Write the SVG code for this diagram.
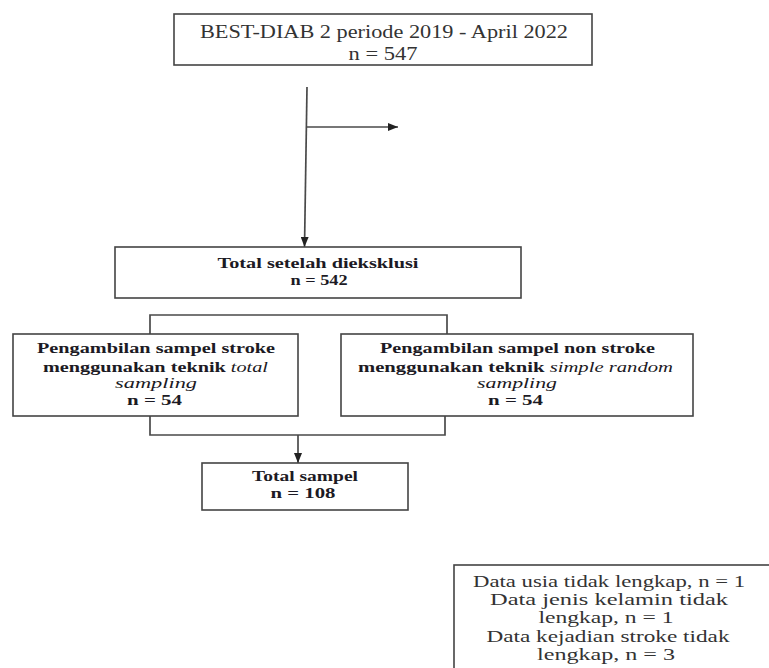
<svg xmlns="http://www.w3.org/2000/svg" width="769" height="668" viewBox="0 0 769 668">
<defs>
<marker id="ah" markerWidth="10" markerHeight="8" refX="10" refY="4" orient="auto" markerUnits="userSpaceOnUse">
<path d="M0,0 L10,4 L0,8 Z" fill="#222"/>
</marker>
<style>
.box{fill:#fff;stroke:#444;stroke-width:1.6}
.ln{fill:none;stroke:#4a4a4a;stroke-width:1.7}
.t1{font-family:"Liberation Serif","Times New Roman",serif;font-size:18px;fill:#333;text-anchor:middle}
.t2{font-family:"Liberation Serif","Times New Roman",serif;font-size:15px;fill:#1c1a24;font-weight:bold;text-anchor:middle}
.t3{font-family:"Liberation Serif","Times New Roman",serif;font-size:16px;fill:#333;text-anchor:middle}
.it{font-style:italic;font-weight:normal}
</style>
</defs>
<rect width="769" height="668" fill="#fff"/>
<g id="connectors">
<line class="ln" x1="307" y1="87" x2="304.5" y2="247" marker-end="url(#ah)"/>
<line class="ln" x1="306" y1="127" x2="398" y2="127" marker-end="url(#ah)"/>
<polyline class="ln" points="150,334 150,315 447,315 447,334"/>
<polyline class="ln" points="150,416 150,435 445,435 445,416"/>
<line class="ln" x1="298" y1="435" x2="298" y2="463" marker-end="url(#ah)"/>
</g>
<g id="n_best">
<rect class="box" x="174" y="14" width="418" height="51"/>
<text class="t1" x="384" y="38" textLength="368" lengthAdjust="spacingAndGlyphs">BEST-DIAB 2 periode 2019 - April 2022</text>
<text class="t1" x="383" y="60" textLength="69" lengthAdjust="spacingAndGlyphs">n = 547</text>
</g>
<g id="n_total">
<rect class="box" x="115" y="247" width="406" height="51"/>
<text class="t2" x="318" y="268" textLength="201" lengthAdjust="spacingAndGlyphs">Total setelah dieksklusi</text>
<text class="t2" x="319" y="285" textLength="57" lengthAdjust="spacingAndGlyphs">n = 542</text>
</g>
<g id="n_stroke">
<rect class="box" x="13" y="334" width="285" height="82"/>
<text class="t2" x="156" y="353" textLength="238" lengthAdjust="spacingAndGlyphs">Pengambilan sampel stroke</text>
<text class="t2" x="155.5" y="372" textLength="225" lengthAdjust="spacingAndGlyphs">menggunakan teknik <tspan class="it">total</tspan></text>
<text class="t2 it" x="156" y="388" textLength="82" lengthAdjust="spacingAndGlyphs">sampling</text>
<text class="t2" x="154.5" y="405" textLength="55" lengthAdjust="spacingAndGlyphs">n = 54</text>
</g>
<g id="n_nonstroke">
<rect class="box" x="341" y="334" width="352" height="82"/>
<text class="t2" x="517.5" y="353" textLength="275" lengthAdjust="spacingAndGlyphs">Pengambilan sampel non stroke</text>
<text class="t2" x="515.5" y="372" textLength="315" lengthAdjust="spacingAndGlyphs">menggunakan teknik <tspan class="it">simple random</tspan></text>
<text class="t2 it" x="517" y="388" textLength="80" lengthAdjust="spacingAndGlyphs">sampling</text>
<text class="t2" x="515.5" y="405" textLength="55" lengthAdjust="spacingAndGlyphs">n = 54</text>
</g>
<g id="n_sampel">
<rect class="box" x="202" y="463" width="206" height="47"/>
<text class="t2" x="305" y="481" textLength="106" lengthAdjust="spacingAndGlyphs">Total sampel</text>
<text class="t2" x="303" y="498" textLength="65" lengthAdjust="spacingAndGlyphs">n = 108</text>
</g>
<g id="n_excl">
<rect class="box" x="454" y="565" width="330" height="120"/>
<text class="t3" x="609" y="587" textLength="272" lengthAdjust="spacingAndGlyphs">Data usia tidak lengkap, n = 1</text>
<text class="t3" x="609" y="605" textLength="238" lengthAdjust="spacingAndGlyphs">Data jenis kelamin tidak</text>
<text class="t3" x="606" y="623" textLength="135" lengthAdjust="spacingAndGlyphs">lengkap, n = 1</text>
<text class="t3" x="608" y="642" textLength="243" lengthAdjust="spacingAndGlyphs">Data kejadian stroke tidak</text>
<text class="t3" x="606" y="660" textLength="138" lengthAdjust="spacingAndGlyphs">lengkap, n = 3</text>
</g>
</svg>
